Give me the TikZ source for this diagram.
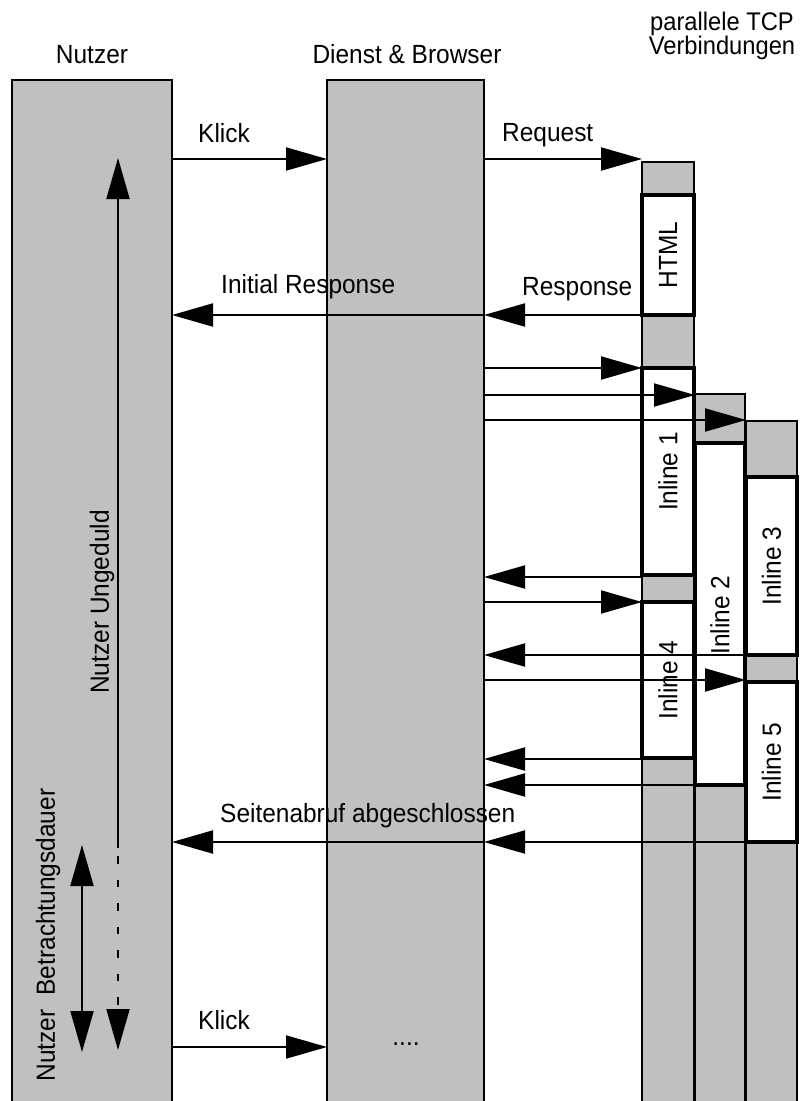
\documentclass[tikz,border=0pt]{standalone}
\usepackage{fontspec}
\setmainfont{Liberation Sans}[FakeStretch=0.93]
\usetikzlibrary{arrows.meta}
\definecolor{lanegray}{RGB}{192,192,192}
\begin{document}
\begin{tikzpicture}[x=1pt,y=-1pt,
  lane/.style={draw,line width=2pt,fill=lanegray,inner sep=0pt,outer sep=0pt,anchor=north west},
  xfer/.style={draw,line width=4pt,fill=white,inner sep=0pt,outer sep=0pt,anchor=north west},
  arr/.style={line width=2pt,-{Triangle[length=41pt,width=23pt]}},
  dblarr/.style={line width=2pt,{Triangle[length=41pt,width=23pt]}-{Triangle[length=41pt,width=23pt]}},
  txt/.style={inner sep=0pt,anchor=base west,font=\fontsize{26.3}{30}\selectfont},
  vtxt/.style={inner sep=0pt,rotate=90,font=\fontsize{26.3}{30}\selectfont},
  ttl/.style={inner sep=0pt,anchor=base,font=\fontsize{26.3}{30}\selectfont},
  ttlsmall/.style={inner sep=0pt,anchor=base,font=\fontsize{25.5}{25}\selectfont}]
\useasboundingbox (0,0) rectangle (800,1101);
\clip (0,0) rectangle (800,1101);
% titles
\node[ttl] (tnutzer) at (92,63) {Nutzer};
\node[ttl] (tdienst) at (407,63) {Dienst \& Browser};
\node[ttlsmall] (ttcpa) at (722,30) {parallele TCP};
\node[ttlsmall] (ttcpb) at (722,54) {Verbindungen};
% lanes
\node[lane,minimum width=160pt,minimum height=1060pt] (nutzer) at (12,80) {};
\node[lane,minimum width=157pt,minimum height=1060pt] (dienst) at (327,80) {};
\node[lane,minimum width=52pt,minimum height=960pt] (tcpa) at (642,162) {};
\node[lane,minimum width=50pt,minimum height=730pt] (tcpb) at (695,394) {};
\node[lane,minimum width=51pt,minimum height=700pt] (tcpc) at (746,421) {};
% transfers
\node[xfer,minimum width=52pt,minimum height=120pt] (html) at (642,195) {};
\node[xfer,minimum width=52pt,minimum height=207pt] (inla) at (642,368) {};
\node[xfer,minimum width=52pt,minimum height=156pt] (inld) at (642,602) {};
\node[xfer,minimum width=50pt,minimum height=342pt] (inlb) at (695,443) {};
\node[xfer,minimum width=51pt,minimum height=178pt] (inlc) at (746,477) {};
\node[xfer,minimum width=51pt,minimum height=160pt] (inle) at (746,682) {};
\node[vtxt] (lhtml) at (html.center) {HTML};
\node[vtxt] (linla) at (inla.center) {Inline 1};
\node[vtxt] (linld) at (inld.center) {Inline 4};
\node[vtxt] (linlb) at (720,615) {Inline 2};
\node[vtxt] (linlc) at (inlc.center) {Inline 3};
\node[vtxt] (linle) at (inle.center) {Inline 5};
% row coordinates
\coordinate (rA) at (0,159);
\coordinate (rC) at (0,315);
\coordinate (rD) at (0,368);
\coordinate (rE) at (0,395);
\coordinate (rF) at (0,420);
\coordinate (rG) at (0,577);
\coordinate (rH) at (0,602);
\coordinate (rI) at (0,655);
\coordinate (rJ) at (0,680);
\coordinate (rK) at (0,759);
\coordinate (rL) at (0,785);
\coordinate (rM) at (0,842);
\coordinate (rN) at (0,1047);
% messages
\draw[arr] (nutzer.east |- rA) -- (dienst.west |- rA);
\draw[arr] (dienst.east |- rA) -- (tcpa.west |- rA);
\draw[arr] (tcpa.west |- rC) -- (dienst.east |- rC);
\draw[arr] (dienst.east |- rC) -- (nutzer.east |- rC);
\draw[arr] (dienst.east |- rD) -- (tcpa.west |- rD);
\draw[arr] (dienst.east |- rE) -- (tcpb.west |- rE);
\draw[arr] (dienst.east |- rF) -- (tcpc.west |- rF);
\draw[arr] (tcpa.west |- rG) -- (dienst.east |- rG);
\draw[arr] (dienst.east |- rH) -- (tcpa.west |- rH);
\draw[arr] (tcpc.west |- rI) -- (dienst.east |- rI);
\draw[arr] (dienst.east |- rJ) -- (tcpc.west |- rJ);
\draw[arr] (tcpa.west |- rK) -- (dienst.east |- rK);
\draw[arr] (tcpb.west |- rL) -- (dienst.east |- rL);
\draw[arr] (tcpc.east |- rM) -- (dienst.east |- rM);
\draw[arr] (dienst.east |- rM) -- (nutzer.east |- rM);
\draw[arr] (nutzer.east |- rN) -- (dienst.west |- rN);
% message labels
\node[txt] (lklick) at (198,142) {Klick};
\node[txt] (lreq) at (502,141) {Request};
\node[txt] (lresp) at (522,295) {Response};
\node[txt] (linit) at (221,293) {Initial Response};
\node[txt] (lseite) at (220,822) {Seitenabruf abgeschlossen};
\node[txt] (lklickb) at (198,1029) {Klick};
\node[ttl] (ldots) at (406,1045) {....};
% user impatience
\coordinate (ungTop) at (118,158);
\coordinate (ungMid) at (118,848);
\coordinate (ungBot) at (118,1050);
\draw[arr] (ungMid) -- (ungTop);
\draw[arr,dash pattern=on 7.5pt off 16pt,dash phase=15.5pt] (ungMid) -- (ungBot);
\node[vtxt] (lung) at (102,602) {Nutzer Ungeduld};
% viewing duration
\coordinate (betTop) at (82,845);
\coordinate (betBot) at (82,1052);
\draw[dblarr] (betTop) -- (betBot);
\node[vtxt] (lbet) at (48,935) {Nutzer\hspace{14pt}Betrachtungsdauer};
\end{tikzpicture}
\end{document}
